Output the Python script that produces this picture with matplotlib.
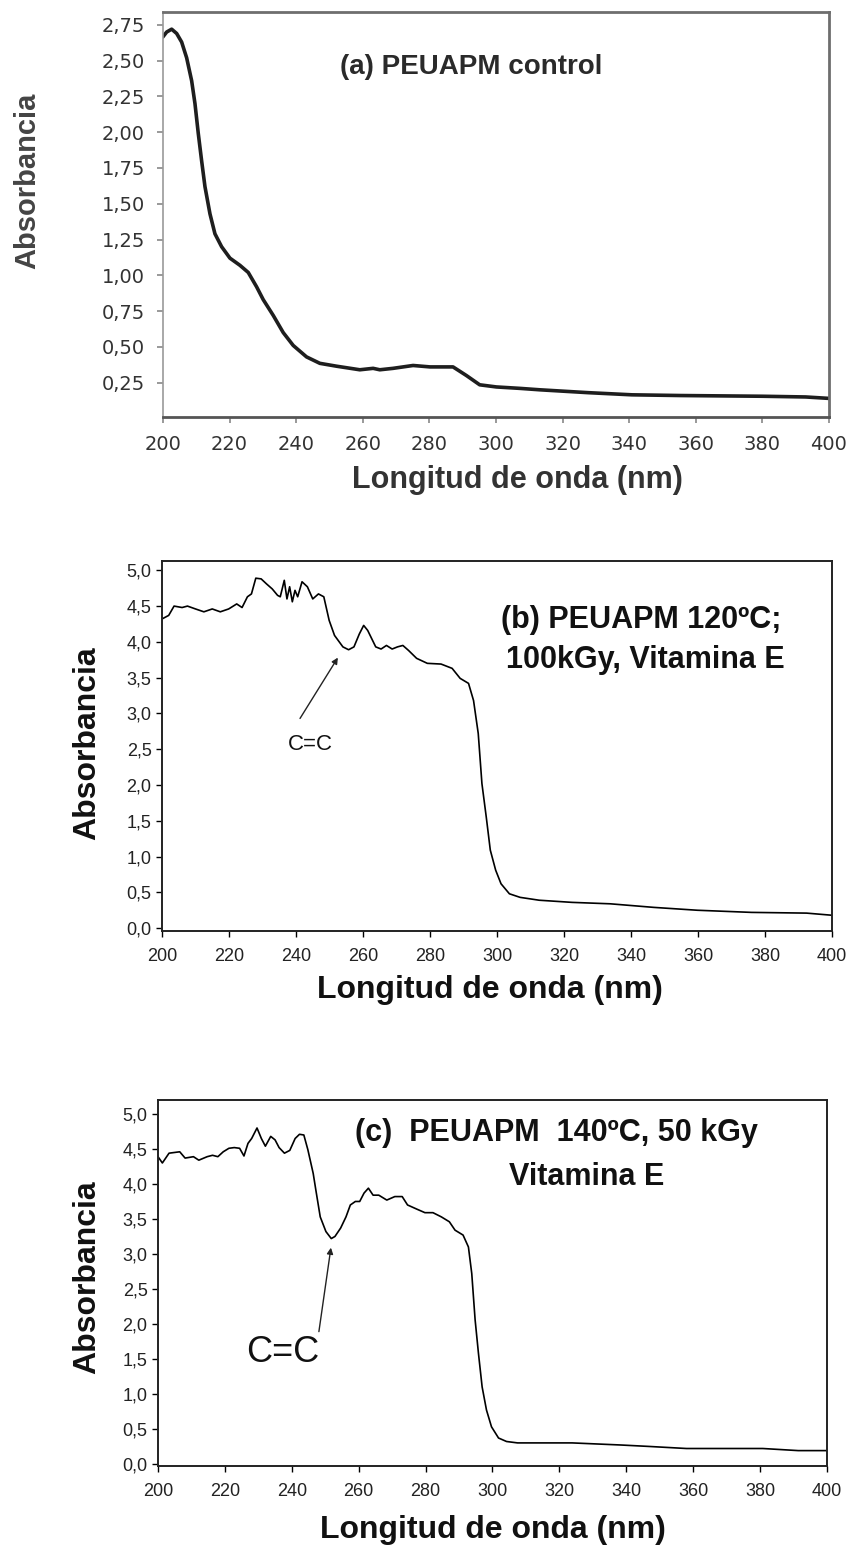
import numpy as np
import matplotlib
matplotlib.use("Agg")
import matplotlib.pyplot as plt

# --- data ---
# (a) PEUAPM control
wl_a = [200.1, 201.1, 202.6, 204.1, 205.6, 207.1, 208.6, 209.6, 210.6, 211.6, 212.6, 214.1,
        215.6, 217.6, 220.1, 223.1, 225.6, 228.1, 230.1, 233.1, 236.1, 239.1, 243.1, 247.1,
        252.1, 259.1, 263.1, 265.1, 269.1, 275.1, 280.2, 287.1, 291.1, 295.1, 300.1, 307.2,
        313.2, 327.7, 340.8, 355.5, 380, 393, 400]
abs_a = [2.67, 2.70, 2.72, 2.69, 2.63, 2.52, 2.36, 2.20, 1.99, 1.80, 1.62, 1.43,
         1.29, 1.20, 1.12, 1.07, 1.02, 0.92, 0.83, 0.72, 0.60, 0.51, 0.43, 0.385,
         0.365, 0.34, 0.35, 0.34, 0.35, 0.37, 0.36, 0.36, 0.30, 0.235, 0.22, 0.21,
         0.20, 0.18, 0.165, 0.16, 0.155, 0.15, 0.14]

# (b) PEUAPM 120ºC; 100kGy, Vitamina E
wl_b = [200, 202, 203.6, 206, 207.6, 210, 212.5, 215, 217.4, 219.9, 222.3, 223.9, 225.5,
        226.7, 228, 229.6, 231.2, 232.9, 234.5, 235.3, 236.5, 237.3, 238.1, 238.9, 239.7,
        240.5, 241.8, 243.4, 245, 246.7, 248.3, 249.9, 251.5, 254, 255.7, 257.3, 258.9,
        260.2, 261.4, 263.8, 265.4, 267, 268.7, 270.3, 271.9, 273.6, 276, 279.2, 283.3,
        286.6, 289, 291.5, 293, 294.4, 295.5, 296.8, 298, 299.6, 301.2, 303.7, 306.9,
        312.6, 322.4, 333.8, 346.8, 359.8, 376, 392.4, 400]
abs_b = [4.32, 4.37, 4.50, 4.48, 4.50, 4.46, 4.42, 4.46, 4.42, 4.46, 4.53, 4.48, 4.63,
         4.67, 4.89, 4.88, 4.81, 4.74, 4.65, 4.63, 4.86, 4.60, 4.77, 4.56, 4.72,
         4.63, 4.84, 4.77, 4.60, 4.67, 4.63, 4.30, 4.09, 3.93, 3.89, 3.93, 4.11,
         4.23, 4.16, 3.93, 3.90, 3.95, 3.90, 3.93, 3.95, 3.88, 3.77, 3.70, 3.69,
         3.63, 3.49, 3.42, 3.18, 2.72, 2.02, 1.55, 1.09, 0.81, 0.62, 0.48, 0.43,
         0.39, 0.36, 0.34, 0.29, 0.25, 0.22, 0.21, 0.18]

# (c) PEUAPM 140ºC, 50 kGy, Vitamina E
wl_c = [200, 201.3, 203.3, 204.9, 206.5, 208.1, 210.6, 212.2, 214.7, 216.3, 217.9, 219.5,
        221.2, 222.8, 224.4, 225.7, 226.9, 228, 229.6, 230.9, 232.1, 233.7, 235, 236.2,
        237.8, 239.4, 241, 242.3, 243.6, 244.8, 246.4, 247.2, 248.5, 250.2, 251.8, 252.9,
        254.6, 256.2, 257.5, 259, 260.3, 261.6, 262.9, 264.3, 266, 268.4, 270.8, 273,
        274.6, 277.4, 279.8, 282.2, 284.7, 287.1, 288.8, 291.2, 292.8, 293.8, 294.8,
        295.8, 296.9, 298.2, 299.7, 301.8, 304.2, 307.5, 323.8, 338.4, 346.6, 358,
        380.8, 391.4, 400]
abs_c = [4.39, 4.30, 4.44, 4.45, 4.46, 4.37, 4.39, 4.34, 4.39, 4.41, 4.39, 4.46,
         4.51, 4.52, 4.51, 4.40, 4.58, 4.65, 4.80, 4.65, 4.54, 4.68, 4.63, 4.52,
         4.44, 4.48, 4.65, 4.71, 4.70, 4.49, 4.15, 3.91, 3.53, 3.32, 3.22, 3.25,
         3.37, 3.53, 3.70, 3.75, 3.75, 3.87, 3.94, 3.84, 3.84, 3.77, 3.82, 3.82,
         3.70, 3.64, 3.59, 3.59, 3.53, 3.46, 3.34, 3.27, 3.10, 2.72, 2.06,
         1.58, 1.10, 0.77, 0.53, 0.37, 0.32, 0.30, 0.30, 0.27, 0.25, 0.22,
         0.22, 0.19, 0.19]

xticks = [200, 220, 240, 260, 280, 300, 320, 340, 360, 380, 400]
yticks_a = [0.25, 0.50, 0.75, 1.00, 1.25, 1.50, 1.75, 2.00, 2.25, 2.50, 2.75]
yticks_bc = [0.0, 0.5, 1.0, 1.5, 2.0, 2.5, 3.0, 3.5, 4.0, 4.5, 5.0]

W, H = 853, 1547
arial = ['Liberation Sans', 'DejaVu Sans']

fig = plt.figure(figsize=(W / 100, H / 100), dpi=100)
fig.patch.set_facecolor('white')


def box(l, r, t, b):
    # pixel box -> figure fraction
    return [l / W, 1 - b / H, (r - l) / W, (b - t) / H]


def comma(v, nd):
    return ("{:.%df}" % nd).format(v).replace('.', ',')


# ---------- (a) ----------
ax = fig.add_axes(box(163, 829, 12, 417))
ax.plot(wl_a, abs_a, color='#1e1e1e', lw=2.6, solid_joinstyle='round')
ax.set_xlim(200, 400)
ax.set_ylim(0.01, 2.84)
ax.set_xticks(xticks)
ax.set_yticks(yticks_a)
ax.set_yticklabels([comma(v, 2) for v in yticks_a])
for s in ax.spines.values():
    s.set_color('#6e6e6e')
    s.set_linewidth(2)
ax.spines['left'].set_linewidth(1.2)
ax.spines['left'].set_color('#9a9a9a')
ax.spines['bottom'].set_color('#555555')
ax.tick_params(direction='out', length=4, width=1.2, color='#888888',
               labelcolor='#333333', labelsize=14)
ax.tick_params(axis='x', pad=9)
ax.tick_params(axis='y', pad=9)
for lab in ax.get_xticklabels() + ax.get_yticklabels():
    lab.set_family('DejaVu Sans')
ax.text(0.462, 0.864, "(a) PEUAPM control", transform=ax.transAxes, ha='center',
        va='center', fontsize=20, fontweight='bold', family=arial, color='#2a2a2a')
fig.text(27 / W, 1 - 181 / H, "Absorbancia", rotation=90, ha='center', va='center',
         fontsize=21, fontweight='bold', family=arial, color='#444444')
fig.text(517 / W, 1 - 480 / H, "Longitud de onda (nm)", ha='center', va='center',
         fontsize=22, fontweight='bold', family=arial, color='#333333')


def panel_bc(pos, wl, ab, ylim, ylab_y, xlab_x, xlab_y):
    ax = fig.add_axes(box(*pos))
    ax.plot(wl, ab, color='black', lw=1.2)
    ax.set_xlim(200, 400)
    ax.set_ylim(*ylim)
    ax.set_xticks(xticks)
    ax.set_yticks(yticks_bc)
    ax.set_yticklabels([comma(v, 1) for v in yticks_bc])
    for s in ax.spines.values():
        s.set_color('#222222')
        s.set_linewidth(1.4)
    ax.tick_params(direction='out', length=4, width=1.0, labelsize=13,
                   labelcolor='#222222')
    ax.tick_params(axis='x', pad=8)
    for lab in ax.get_xticklabels() + ax.get_yticklabels():
        lab.set_family(arial)
    fig.text(87 / W, 1 - ylab_y / H, "Absorbancia", rotation=90, ha='center',
             va='center', fontsize=23, fontweight='bold', family=arial, color='#111111')
    fig.text(xlab_x / W, 1 - xlab_y / H, "Longitud de onda (nm)", ha='center',
             va='center', fontsize=23, fontweight='bold', family=arial, color='#111111')
    return ax


arrow = dict(arrowstyle='-|>', color='#222222', lw=1.0, mutation_scale=9,
             shrinkA=0, shrinkB=0)

# ---------- (b) ----------
axb = panel_bc((162, 832, 561, 931), wl_b, abs_b, (-0.04, 5.13), 743, 490, 990)
axb.text(0.715, 0.84, "(b) PEUAPM 120ºC;", transform=axb.transAxes, ha='center',
         va='center', fontsize=22, fontweight='bold', family=arial, color='#111111')
axb.text(0.722, 0.732, "100kGy, Vitamina E", transform=axb.transAxes, ha='center',
         va='center', fontsize=22, fontweight='bold', family=arial, color='#111111')
axb.text(244.2, 2.56, "C=C", ha='center', va='center', fontsize=16, family=arial,
         color='#111111')
axb.annotate("", xy=(252.5, 3.78), xytext=(241.2, 2.93), arrowprops=arrow)

# ---------- (c) ----------
axc = panel_bc((158, 827, 1100, 1466), wl_c, abs_c, (-0.03, 5.2), 1277, 493, 1530)
axc.text(0.595, 0.91, "(c)  PEUAPM  140ºC, 50 kGy", transform=axc.transAxes,
         ha='center', va='center', fontsize=22, fontweight='bold', family=arial,
         color='#111111')
axc.text(0.641, 0.79, "Vitamina E", transform=axc.transAxes, ha='center', va='center',
         fontsize=22, fontweight='bold', family=arial, color='#111111')
axc.text(237.4, 1.59, "C=C", ha='center', va='center', fontsize=26, family=arial,
         color='#111111')
axc.annotate("", xy=(251.7, 3.09), xytext=(248.1, 1.89), arrowprops=arrow)

fig.savefig("out.png", dpi=100, facecolor='white')
